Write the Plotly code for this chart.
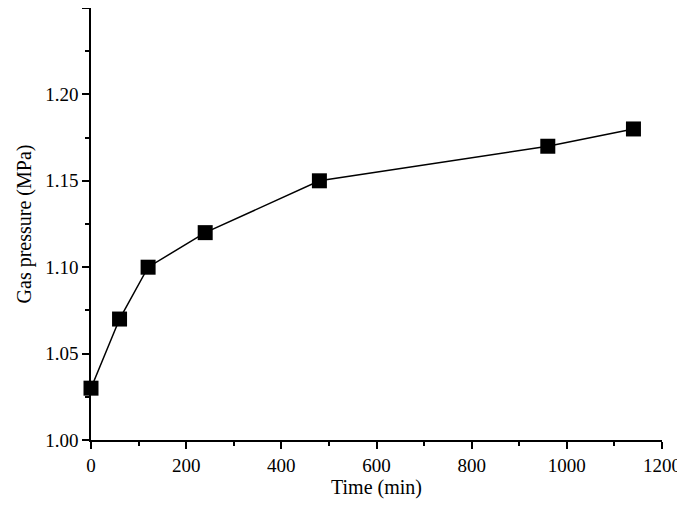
import plotly.graph_objects as go

time_min = [0, 60, 120, 240, 480, 960, 1140]
pressure = [1.03, 1.07, 1.10, 1.12, 1.15, 1.17, 1.18]

fig = go.Figure(go.Scatter(
    x=time_min, y=pressure, mode="lines+markers",
    line=dict(color="black", width=1.5),
    marker=dict(symbol="square", size=15, color="black"),
    cliponaxis=False,
))

axis_common = dict(
    showgrid=False, zeroline=False, showline=True, linecolor="black", linewidth=1.5,
    ticks="outside", ticklen=7, tickwidth=1.5, tickcolor="black",
    minor=dict(ticks="outside", ticklen=4, tickwidth=1.5, tickcolor="black"),
    tickfont=dict(family="Liberation Serif", size=19, color="black"),
)
fig.update_xaxes(range=[0, 1200], dtick=200, minor_dtick=100,
                 title=dict(text="Time (min)", standoff=2,
                            font=dict(family="Liberation Serif", size=20, color="black")),
                 **axis_common)
fig.update_yaxes(range=[1.0, 1.25], dtick=0.05, tickformat=".2f", minor_dtick=0.025,
                 title=dict(text="Gas pressure (MPa)", standoff=8,
                            font=dict(family="Liberation Serif", size=20, color="black")),
                 **axis_common)
fig.update_layout(width=685, height=508, margin=dict(l=83, r=31, t=0, b=76),
                  plot_bgcolor="white", paper_bgcolor="white", showlegend=False)
fig.write_html("out.html")
